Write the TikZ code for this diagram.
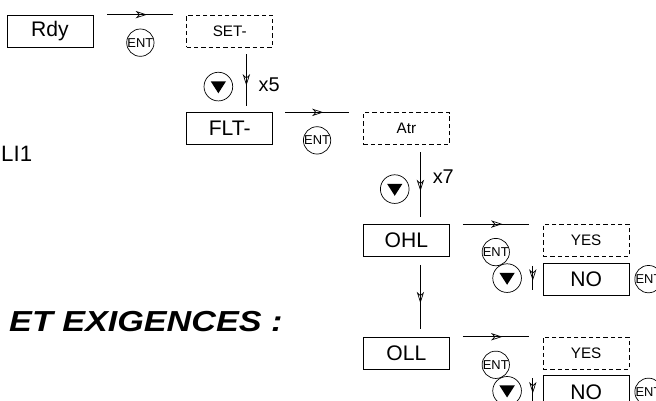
\documentclass[tikz,border=0pt]{standalone}
\usepackage{fontspec}
\setmainfont{Liberation Sans}
\usepackage{tikz}
\usetikzlibrary{arrows.meta, positioning, decorations.markings}

\begin{document}
\begin{tikzpicture}[
  x=0.03cm, y=0.03cm,
  box/.style={draw, line width=0.6pt, minimum height=0.96cm, minimum width=2.58cm,
              inner sep=0pt, align=center, font=\fontsize{18}{20}\selectfont},
  dbox/.style={box, dash pattern=on 1.3mm off 0.9mm, font=\fontsize{13}{15}\selectfont},
  ent/.style={draw, circle, line width=0.6pt, minimum size=0.82cm, inner sep=0pt,
              font=\fontsize{11}{11}\selectfont},
  btn/.style={draw, circle, line width=0.6pt, minimum size=0.86cm, inner sep=0pt,
              path picture={\fill ([shift={(-2.3mm,1.6mm)}]path picture bounding box.center)
                            -- ++(4.6mm,0) -- ++(-2.3mm,-3.6mm) -- cycle;}},
  flow/.style={line width=0.6pt, postaction={decorate},
               decoration={markings, mark=at position 0.6 with
                 {\arrow{Stealth[open, length=3.4mm, width=2.2mm, inset=1mm]}}}},
  lbl/.style={inner sep=0pt, font=\fontsize{17}{19}\selectfont}
]
\useasboundingbox (0,0) rectangle (656,-401);
\clip (0,0) rectangle (656,-401);

\node[box] (rdy) at (50,-31) {Rdy};
\node[dbox, right=2.79cm of rdy] (set)  {SET-};
\node[box, below=1.95cm of set]  (flt)  {FLT-};
\node[dbox, right=2.7cm of flt]  (atr)  {Atr};
\node[box, below=2.37cm of atr]  (ohl)  {OHL};
\node[dbox, right=2.79cm of ohl] (yes1) {YES};
\node[box, below=0.18cm of yes1] (no1)  {NO};
\node[box, below=2.4cm of ohl]   (oll)  {OLL};
\node[dbox, right=2.79cm of oll] (yes2) {YES};
\node[box, below=0.18cm of yes2] (no2)  {NO};
\node[ent, right=0.15cm of no1]  (ent4) {ENT};
\node[ent, right=0.15cm of no2]  (ent6) {ENT};

\draw[flow] ([xshift=0.42cm]rdy.north east) -- ([xshift=-0.39cm]set.north west)
  node[midway, ent, below=0.42cm] (ent1) {ENT};
\draw[flow] ([xshift=0.5cm,yshift=-0.21cm]set.south) coordinate (s1)
  -- ([yshift=0.18cm]s1 |- flt.north)
  node[pos=0.62, btn, left=0.4cm] (dn1) {}
  node[pos=0.58, lbl, right=0.36cm] (x5) {x5};
\draw[flow] ([xshift=0.36cm]flt.north east) -- ([xshift=-0.42cm]atr.north west)
  node[midway, ent, below=0.42cm] (ent2) {ENT};
\draw[flow] ([xshift=0.42cm,yshift=-0.21cm]atr.south) coordinate (s2)
  -- ([yshift=0.21cm]s2 |- ohl.north)
  node[pos=0.57, btn, left=0.33cm] (dn2) {}
  node[pos=0.38, lbl, right=0.36cm] (x7) {x7};
\draw[flow] ([xshift=0.39cm]ohl.north east) -- ([xshift=-0.42cm]yes1.north west)
  node[midway, ent, below=0.42cm] (ent3) {ENT};
\draw[flow] ([xshift=-0.3cm,yshift=-0.09cm]no1.north west) -- ([xshift=-0.3cm,yshift=0.15cm]no1.south west)
  node[midway, btn, left=0.33cm] (dn3) {};
\draw[flow] ([xshift=0.42cm,yshift=-0.24cm]ohl.south) coordinate (s3)
  -- ([yshift=0.24cm]s3 |- oll.north);
\draw[flow] ([xshift=0.39cm]oll.north east) -- ([xshift=-0.42cm]yes2.north west)
  node[midway, ent, below=0.42cm] (ent5) {ENT};
\draw[flow] ([xshift=-0.3cm,yshift=-0.09cm]no2.north west) -- ([xshift=-0.3cm,yshift=0.15cm]no2.south west)
  node[midway, btn, left=0.33cm] (dn4) {};

\node[anchor=west, inner sep=0pt, font=\fontsize{19}{21}\selectfont] (li1) at (1,-154) {LI1};
\node[anchor=west, inner sep=0pt, font=\fontsize{24.7}{28}\selectfont\bfseries\itshape] (title)
  at (9,-322) {\scalebox{1.18}[1]{ET EXIGENCES :}};
\end{tikzpicture}
\end{document}
